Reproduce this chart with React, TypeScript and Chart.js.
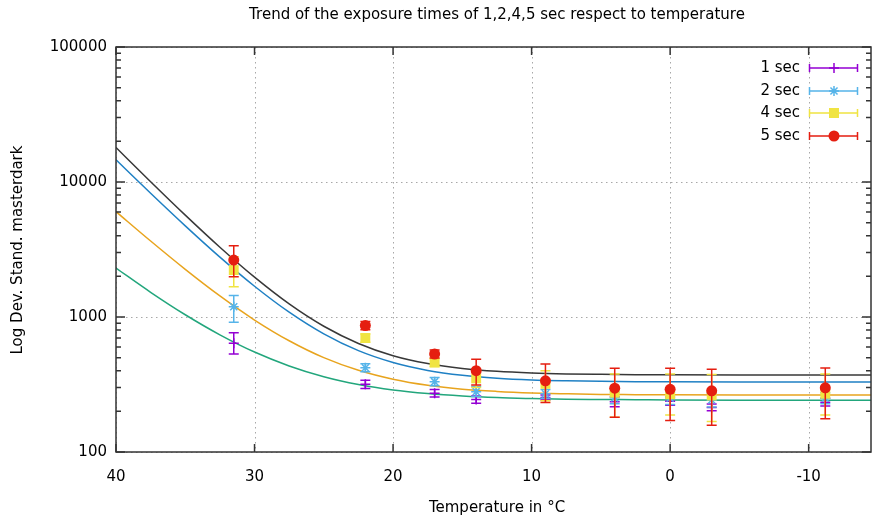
import React, { useEffect, useRef } from "react";
import { Chart, registerables } from "chart.js";

Chart.register(...registerables);

// ---- data ----
const temps = [31.5, 22, 17, 14, 9, 4, 0, -3, -11.2];

const sec1 = [638, 317, 272, 245, 253, 236, 238, 214, 234];
const sec1Lo = [532, 296, 255, 230, 243, 216, 222, 202, 219];
const sec1Hi = [765, 340, 290, 260, 264, 257, 256, 227, 250];

const sec2 = [1191, 421, 332, 280, 270, 252, 250, 243, 250];
const sec2Lo = [914, 393, 310, 258, 250, 228, 225, 215, 228];
const sec2Hi = [1440, 451, 356, 305, 290, 278, 276, 272, 275];

const sec4 = [2228, 698, 460, 351, 320, 275, 268, 262, 270];
const sec4Lo = [1675, 650, 430, 300, 240, 181, 188, 168, 188];
const sec4Hi = [2800, 748, 492, 405, 400, 378, 378, 375, 378];

const sec5 = [2640, 865, 532, 400, 337, 297, 291, 284, 299];
const sec5Lo = [1990, 805, 497, 313, 233, 181, 171, 158, 176];
const sec5Hi = [3370, 928, 570, 486, 448, 417, 417, 410, 419];

const fitTemps = [40, 37.5, 35, 32.5, 30, 27.5, 25, 22.5, 20, 17.5, 15, 12.5, 10, 7.5, 5, 2.5, 0, -5, -10, -14.5];
const fit1 = [2303, 1524, 1039, 738, 550, 434, 361, 316, 288, 271, 260, 253, 249, 246, 245, 244, 243, 242, 242, 242];
const fit2 = [14600, 8255, 4734, 2777, 1690, 1086, 750, 563, 460, 402, 370, 352, 342, 337, 334, 332, 331, 330, 330, 330];
const fit4 = [6030, 3653, 2254, 1432, 950, 667, 500, 403, 346, 312, 292, 281, 274, 270, 267, 266, 265, 264, 264, 264];
const fit5 = [18000, 10052, 5684, 3287, 1972, 1250, 854, 637, 517, 452, 416, 396, 385, 379, 376, 374, 373, 372, 372, 372];

const xTicks = [40, 30, 20, 10, 0, -10];
const yTicks = [100, 1000, 10000, 100000];
const seriesNames = ["1 sec", "2 sec", "4 sec", "5 sec"];

const TITLE = "Trend of the exposure times of 1,2,4,5 sec respect to temperature";
const X_TITLE = "Temperature in \u00B0C";
const Y_TITLE = "Log Dev. Stand. masterdark";

const PURPLE = "#9400d3";
const SKY = "#56b4e9";
const YELLOW = "#f0e442";
const RED = "#e51e10";
const FONT = "'DejaVu Sans', sans-serif";

const pts = (xs: number[], ys: number[]) => xs.map((x, i) => ({ x, y: ys[i] }));

// error bars keyed by dataset index
const errMap: Record<number, { lo: number[]; hi: number[]; color: string }> = {
  0: { lo: sec5Lo, hi: sec5Hi, color: RED },
  1: { lo: sec4Lo, hi: sec4Hi, color: YELLOW },
  2: { lo: sec2Lo, hi: sec2Hi, color: SKY },
  3: { lo: sec1Lo, hi: sec1Hi, color: PURPLE },
};

const errorBarPlugin = {
  id: "errorBars",
  beforeDatasetDraw(chart: any, args: any) {
    const eb = errMap[args.index];
    if (!eb) return;
    const { ctx, chartArea } = chart;
    const xs = chart.scales.x;
    const ys = chart.scales.y;
    ctx.save();
    ctx.beginPath();
    ctx.rect(chartArea.left, chartArea.top, chartArea.right - chartArea.left, chartArea.bottom - chartArea.top);
    ctx.clip();
    ctx.strokeStyle = eb.color;
    ctx.lineWidth = 1.5;
    temps.forEach((t, i) => {
      const x = xs.getPixelForValue(t);
      const yl = ys.getPixelForValue(eb.lo[i]);
      const yh = ys.getPixelForValue(eb.hi[i]);
      ctx.beginPath();
      ctx.moveTo(x, yl);
      ctx.lineTo(x, yh);
      ctx.moveTo(x - 5, yl);
      ctx.lineTo(x + 5, yl);
      ctx.moveTo(x - 5, yh);
      ctx.lineTo(x + 5, yh);
      ctx.stroke();
    });
    ctx.restore();
  },
};

const gridPlugin = {
  id: "gnuGrid",
  beforeDatasetsDraw(chart: any) {
    const { ctx, chartArea } = chart;
    const xs = chart.scales.x;
    const ys = chart.scales.y;
    ctx.save();
    ctx.strokeStyle = "#a8a8a8";
    ctx.lineWidth = 1;
    ctx.setLineDash([1.5, 3.5]);
    xTicks.forEach((v) => {
      const x = Math.round(xs.getPixelForValue(v)) + 0.5;
      ctx.beginPath();
      ctx.moveTo(x, chartArea.top);
      ctx.lineTo(x, chartArea.bottom);
      ctx.stroke();
    });
    yTicks.forEach((v) => {
      const y = Math.round(ys.getPixelForValue(v)) + 0.5;
      ctx.beginPath();
      ctx.moveTo(chartArea.left, y);
      ctx.lineTo(chartArea.right, y);
      ctx.stroke();
    });
    ctx.restore();
  },
};

const drawMarker = (ctx: CanvasRenderingContext2D, kind: string, x: number, y: number, color: string) => {
  ctx.save();
  ctx.strokeStyle = color;
  ctx.fillStyle = color;
  ctx.lineWidth = 1.5;
  ctx.beginPath();
  if (kind === "plus") {
    ctx.moveTo(x - 5, y);
    ctx.lineTo(x + 5, y);
    ctx.moveTo(x, y - 5);
    ctx.lineTo(x, y + 5);
    ctx.stroke();
  } else if (kind === "star") {
    const r = 5;
    ctx.moveTo(x - r, y);
    ctx.lineTo(x + r, y);
    ctx.moveTo(x, y - r);
    ctx.lineTo(x, y + r);
    const d = r * Math.SQRT1_2;
    ctx.moveTo(x - d, y - d);
    ctx.lineTo(x + d, y + d);
    ctx.moveTo(x - d, y + d);
    ctx.lineTo(x + d, y - d);
    ctx.stroke();
  } else if (kind === "square") {
    ctx.fillRect(x - 5, y - 5, 10, 10);
  } else {
    ctx.arc(x, y, 5.5, 0, Math.PI * 2);
    ctx.fill();
  }
  ctx.restore();
};

const framePlugin = {
  id: "gnuFrame",
  afterDraw(chart: any) {
    const { ctx, chartArea } = chart;
    const { left, right, top, bottom } = chartArea;
    const xs = chart.scales.x;
    const ys = chart.scales.y;
    ctx.save();
    ctx.strokeStyle = "#333333";
    ctx.lineWidth = 1.5;
    ctx.setLineDash([]);
    ctx.strokeRect(left, top, right - left, bottom - top);
    ctx.beginPath();
    xTicks.forEach((v) => {
      const x = xs.getPixelForValue(v);
      ctx.moveTo(x, bottom);
      ctx.lineTo(x, bottom - 8);
      ctx.moveTo(x, top);
      ctx.lineTo(x, top + 8);
    });
    for (let d = 0; d < yTicks.length; d++) {
      const base = yTicks[d];
      const y = ys.getPixelForValue(base);
      ctx.moveTo(left, y);
      ctx.lineTo(left + 9, y);
      ctx.moveTo(right, y);
      ctx.lineTo(right - 9, y);
      if (d < yTicks.length - 1) {
        for (let m = 2; m <= 9; m++) {
          const ym = ys.getPixelForValue(base * m);
          ctx.moveTo(left, ym);
          ctx.lineTo(left + 5, ym);
          ctx.moveTo(right, ym);
          ctx.lineTo(right - 5, ym);
        }
      }
    }
    ctx.stroke();

    // titles
    ctx.fillStyle = "#000";
    ctx.font = `15px ${FONT}`;
    ctx.textAlign = "center";
    ctx.textBaseline = "middle";
    ctx.fillText(TITLE, 497, 15);
    ctx.fillText(X_TITLE, 497, 508);
    ctx.save();
    ctx.translate(18, 250);
    ctx.rotate(-Math.PI / 2);
    ctx.fillText(Y_TITLE, 0, 0);
    ctx.restore();

    // legend
    const kinds = ["plus", "star", "square", "circle"];
    const colors = [PURPLE, SKY, YELLOW, RED];
    const rows = [68, 91, 113, 136];
    seriesNames.forEach((name, i) => {
      const y = rows[i];
      ctx.fillStyle = "#000";
      ctx.textAlign = "right";
      ctx.textBaseline = "middle";
      ctx.fillText(name, 800, y);
      ctx.strokeStyle = colors[i];
      ctx.lineWidth = 1.5;
      ctx.beginPath();
      ctx.moveTo(809.5, y);
      ctx.lineTo(857.5, y);
      ctx.moveTo(809.5, y - 4);
      ctx.lineTo(809.5, y + 4);
      ctx.moveTo(857.5, y - 4);
      ctx.lineTo(857.5, y + 4);
      ctx.stroke();
      drawMarker(ctx, kinds[i], 834, y, colors[i]);
    });
    ctx.restore();
  },
};

export default function App() {
  const ref = useRef<HTMLCanvasElement | null>(null);

  useEffect(() => {
    if (!ref.current) return;
    const fitLine = (data: number[], color: string) => ({
      type: "line" as const,
      data: pts(fitTemps, data),
      borderColor: color,
      backgroundColor: color,
      borderWidth: 1.5,
      pointRadius: 0,
      showLine: true,
      fill: false,
      cubicInterpolationMode: "monotone" as const,
    });
    const chart = new Chart(ref.current, {
      type: "scatter",
      data: {
        datasets: [
          {
            label: "5 sec",
            data: pts(temps, sec5),
            pointStyle: "circle",
            pointRadius: 5.5,
            backgroundColor: RED,
            borderColor: RED,
            borderWidth: 0,
          },
          {
            label: "4 sec",
            data: pts(temps, sec4),
            pointStyle: "rect",
            pointRadius: 7,
            backgroundColor: YELLOW,
            borderColor: YELLOW,
            borderWidth: 0,
          },
          {
            label: "2 sec",
            data: pts(temps, sec2),
            pointStyle: "star",
            pointRadius: 5,
            backgroundColor: SKY,
            borderColor: SKY,
            borderWidth: 1.5,
          },
          {
            label: "1 sec",
            data: pts(temps, sec1),
            pointStyle: "cross",
            pointRadius: 5,
            backgroundColor: PURPLE,
            borderColor: PURPLE,
            borderWidth: 1.5,
          },
          fitLine(fit5, "#383838"),
          fitLine(fit2, "#1f80c4"),
          fitLine(fit4, "#e8a41e"),
          fitLine(fit1, "#22a67c"),
        ] as any,
      },
      options: {
        animation: false,
        responsive: false,
        maintainAspectRatio: false,
        layout: { autoPadding: false, padding: { top: 47, right: 1, left: 0, bottom: 0 } },
        plugins: {
          legend: { display: false },
          tooltip: { enabled: false },
          title: { display: false },
        },
        scales: {
          x: {
            type: "linear",
            reverse: true,
            min: -14.5,
            max: 40,
            grid: { display: false, drawTicks: false },
            border: { display: false },
            afterFit: (s: any) => {
              s.height = 71;
              s.paddingRight = 0;
              s.paddingLeft = 0;
            },
            afterBuildTicks: (s: any) => {
              s.ticks = xTicks.map((v) => ({ value: v }));
            },
            ticks: {
              autoSkip: false,
              maxRotation: 0,
              padding: 16,
              color: "#000",
              font: { family: FONT, size: 15 },
              callback: (v: any) => String(v),
            },
          },
          y: {
            type: "logarithmic",
            min: 100,
            max: 100000,
            grid: { display: false, drawTicks: false },
            border: { display: false },
            afterFit: (s: any) => {
              s.width = 116;
              s.paddingTop = 0;
              s.paddingBottom = 0;
            },
            afterBuildTicks: (s: any) => {
              s.ticks = yTicks.map((v) => ({ value: v, major: true }));
            },
            ticks: {
              autoSkip: false,
              padding: 9,
              color: "#000",
              font: { family: FONT, size: 15 },
              callback: (v: any) => String(v),
            },
          },
        },
      } as any,
      plugins: [gridPlugin, errorBarPlugin, framePlugin],
    });
    return () => chart.destroy();
  }, []);

  return (
    <div style={{ position: "fixed", left: 0, top: 0, width: 872, height: 523, background: "#fff" }}>
      <canvas ref={ref} width={872} height={523} style={{ width: 872, height: 523, display: "block" }} />
    </div>
  );
}
